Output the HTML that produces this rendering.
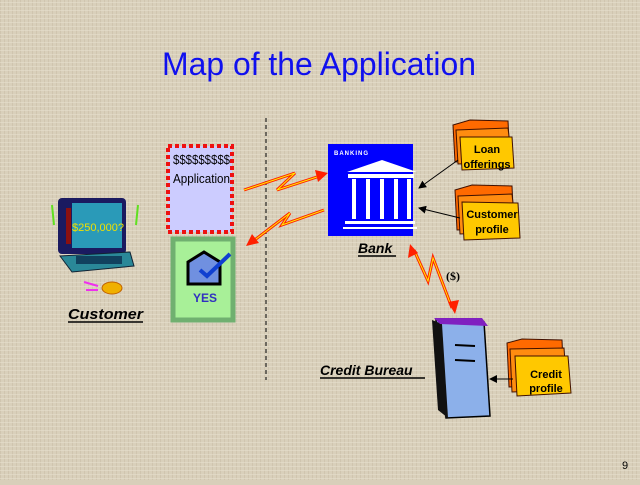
<!DOCTYPE html>
<html><head><meta charset="utf-8"><style>
html,body{margin:0;padding:0;}
body{width:640px;height:480px;overflow:hidden;background:#d8cfba;}
</style></head><body>
<svg width="640" height="480" viewBox="0 0 640 480" xmlns="http://www.w3.org/2000/svg" font-family="Liberation Sans, sans-serif">
<defs>
<pattern id="tex" width="4" height="4" patternUnits="userSpaceOnUse">
<rect width="4" height="4" fill="#d9d0bb"/>
<rect x="0" y="0" width="1" height="4" fill="#c9bea6" opacity="0.6"/>
<rect x="0" y="2" width="4" height="1" fill="#e6dfcd" opacity="0.6"/>
</pattern>
<marker id="ah" markerWidth="8" markerHeight="8" refX="7" refY="4" orient="auto" markerUnits="userSpaceOnUse"><path d="M0,0 L8,4 L0,8 z" fill="#000"/></marker>
</defs>
<rect width="640" height="480" fill="url(#tex)"/>
<text x="319" y="75" text-anchor="middle" font-size="32" fill="#1010ee" textLength="314" lengthAdjust="spacingAndGlyphs">Map of the Application</text>
<line x1="266" y1="118" x2="266" y2="380" stroke="#000" stroke-dasharray="4,3"/>

<!-- Computer -->
<g>
<rect x="58" y="198" width="68" height="56" rx="4" fill="#1a1a60"/>
<rect x="72" y="203" width="50" height="45" fill="#2a9ab8"/>
<rect x="66" y="208" width="5" height="36" fill="#8a1010"/>
<text x="98" y="231" text-anchor="middle" font-size="11" fill="#f0e000">$250,000?</text>
<path d="M60,256 L130,252 L134,266 L72,272 Z" fill="#2a8898" stroke="#123" stroke-width="1"/>
<rect x="76" y="256" width="46" height="8" fill="#0b3050" opacity="0.8"/>
<line x1="52" y1="205" x2="54" y2="225" stroke="#60e020" stroke-width="2"/>
<line x1="138" y1="205" x2="136" y2="225" stroke="#60e020" stroke-width="2"/>
<ellipse cx="112" cy="288" rx="10" ry="6" fill="#f0b000" stroke="#c06000"/>
<line x1="84" y1="282" x2="98" y2="286" stroke="#ee30ee" stroke-width="2"/>
<line x1="86" y1="290" x2="98" y2="290" stroke="#ee30ee" stroke-width="2"/>
</g>
<text x="68" y="319" font-size="15" font-weight="bold" font-style="italic" fill="#000" textLength="75" lengthAdjust="spacingAndGlyphs">Customer</text>
<line x1="68" y1="322" x2="143" y2="322" stroke="#000" stroke-width="1.5"/>

<!-- Application -->
<rect x="168" y="146" width="64" height="86" fill="#ccccff" stroke="#ee1111" stroke-width="4" stroke-dasharray="4,3"/>
<text x="173" y="164" font-size="13" fill="#000" textLength="57" lengthAdjust="spacingAndGlyphs">$$$$$$$$$</text>
<text x="173" y="183" font-size="13" fill="#000" textLength="57" lengthAdjust="spacingAndGlyphs">Application</text>

<!-- YES -->
<rect x="173" y="239" width="60" height="81" fill="#a8f098" stroke="#70b070" stroke-width="5"/>
<path d="M188,262 L204,252 L220,262 L220,284 L188,284 Z" fill="#7090e0" stroke="#000" stroke-width="3"/>
<path d="M200,270 L207,276 L230,254" fill="none" stroke="#1040d0" stroke-width="4"/>
<text x="205" y="302" text-anchor="middle" font-size="12" font-weight="bold" fill="#3030c0">YES</text>

<!-- lightning arrows -->
<g fill="none" stroke-linejoin="miter">
<polyline points="244,190 295,173 277,190 320,176" stroke="#ff2000" stroke-width="3"/>
<polyline points="244,190 295,173 277,190 320,176" stroke="#ffee00" stroke-width="1"/>
<polygon points="328,173 315,170 318,182" fill="#ff2000"/>
<polyline points="324,210 282,225 290,213 252,242" stroke="#ff2000" stroke-width="3"/>
<polyline points="324,210 282,225 290,213 252,242" stroke="#ffee00" stroke-width="1"/>
<polygon points="246,246 252,234 259,243" fill="#ff2000"/>
<polyline points="414,250 428,281 433,258 452,308" stroke="#ff2000" stroke-width="3"/>
<polyline points="414,250 428,281 433,258 452,308" stroke="#ffee00" stroke-width="1"/>
<polygon points="410,244 408,258 418,253" fill="#ff2000"/>
<polygon points="455,314 448,302 459,300" fill="#ff2000"/>
</g>
<text x="446" y="280" font-size="12" font-family="Liberation Serif, serif" font-weight="bold">($)</text>

<!-- Bank -->
<rect x="328" y="144" width="85" height="92" fill="#0000ff"/>
<text x="334" y="155" font-size="6" font-weight="bold" fill="#fff" letter-spacing="1">BANKING</text>
<polygon points="347,172 382,160 417,172" fill="#fff"/>
<rect x="348" y="174" width="66" height="4" fill="#fff"/>
<g fill="#fff"><rect x="352" y="179" width="4" height="40"/><rect x="366" y="179" width="4" height="40"/><rect x="380" y="179" width="4" height="40"/><rect x="394" y="179" width="4" height="40"/><rect x="407" y="179" width="4" height="40"/></g>
<rect x="345" y="221" width="70" height="3" fill="#fff"/>
<rect x="343" y="227" width="74" height="2" fill="#fff"/>
<text x="358" y="253" font-size="14" font-weight="bold" font-style="italic">Bank</text>
<line x1="358" y1="256" x2="396" y2="256" stroke="#000" stroke-width="1.5"/>

<!-- folders -->
<g stroke="#401000" stroke-width="1">
<path d="M453,125 L470,120 L508,121 L510,160 L455,162 Z" fill="#ff6a00"/>
<path d="M456,130 L508,128 L512,162 L458,164 Z" fill="#ff8c10"/>
<path d="M460,137 L512,137 L514,168 L462,170 Z" fill="#ffc800"/>
<path d="M455,190 L472,185 L512,186 L514,228 L457,230 Z" fill="#ff6a00"/>
<path d="M458,196 L512,194 L516,232 L460,234 Z" fill="#ff8c10"/>
<path d="M462,202 L518,203 L520,238 L464,240 Z" fill="#ffc800"/>
<path d="M507,343 L522,339 L562,340 L564,385 L509,387 Z" fill="#ff6a00"/>
<path d="M510,349 L564,348 L567,390 L512,392 Z" fill="#ff8c10"/>
<path d="M515,356 L568,356 L571,393 L517,396 Z" fill="#ffc800"/>
</g>
<g font-size="11" font-weight="bold" text-anchor="middle" font-family="Liberation Sans Narrow, Liberation Sans, sans-serif">
<text x="487" y="153">Loan</text><text x="487" y="168">offerings</text>
<text x="492" y="218">Customer</text><text x="492" y="233">profile</text>
<text x="546" y="378">Credit</text><text x="546" y="392">profile</text>
</g>
<line x1="458" y1="160" x2="419" y2="188" stroke="#000" marker-end="url(#ah)"/>
<line x1="460" y1="218" x2="419" y2="208" stroke="#000" marker-end="url(#ah)"/>
<line x1="513" y1="379" x2="490" y2="379" stroke="#000" marker-end="url(#ah)"/>

<!-- server -->
<path d="M436,320 L484,322 L490,416 L446,418 Z" fill="#8cb0ea" stroke="#000" stroke-width="1.5"/>
<path d="M432,320 L442,324 L448,418 L438,410 Z" fill="#111"/>
<path d="M434,318 L482,318 L488,326 L440,324 Z" fill="#8020c0"/>
<line x1="455" y1="345" x2="475" y2="346" stroke="#000" stroke-width="2"/>
<line x1="455" y1="360" x2="475" y2="361" stroke="#000" stroke-width="2"/>
<text x="320" y="375" font-size="14" font-weight="bold" font-style="italic">Credit Bureau</text>
<line x1="320" y1="378" x2="425" y2="378" stroke="#000" stroke-width="1.5"/>

<text x="622" y="469" font-size="11">9</text>
</svg>
</body></html>
